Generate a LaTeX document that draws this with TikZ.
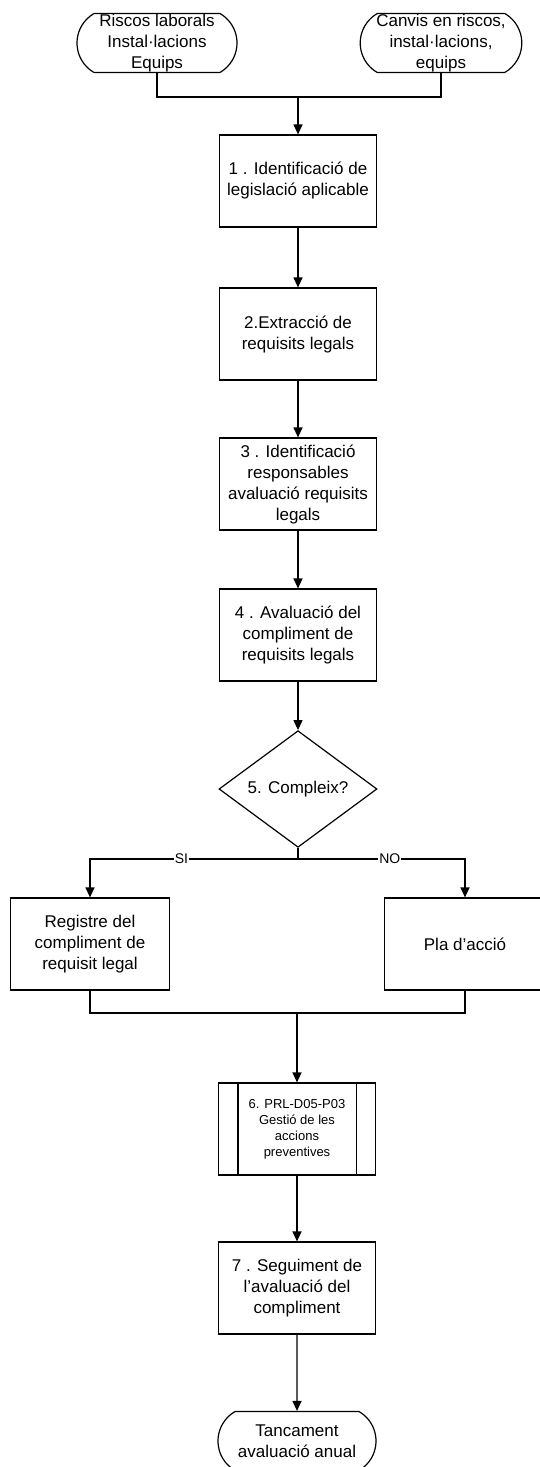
\documentclass[tikz,border=0pt]{standalone}
\usepackage{fontspec}
\setmainfont{Liberation Sans}
\usetikzlibrary{arrows.meta,shapes.geometric,shapes.misc}

\tikzset{
  link/.style={draw=black,line width=1.2pt},
  flow/.style={link,-{Triangle[width=9pt,length=10pt]}},
  procbox/.style={draw=black,line width=1.2pt,rectangle,minimum width=157pt,
    minimum height=92pt,inner sep=0pt,align=center,
    font=\fontsize{17}{21}\selectfont},
  subbox/.style={procbox,font=\fontsize{13}{16}\selectfont},
  termbox/.style={draw=black,line width=1.2pt,rounded rectangle,
    rounded rectangle arc length=120,minimum width=158pt,minimum height=59pt,
    inner sep=0pt,align=center,font=\fontsize{17}{21}\selectfont},
  decbox/.style={draw=black,line width=1.2pt,diamond,minimum width=158pt,
    minimum height=94pt,inner sep=0pt,font=\fontsize{17}{21}\selectfont},
  answer/.style={fill=white,inner sep=1pt,font=\fontsize{14}{16}\selectfont}
}

\begin{document}
\begin{tikzpicture}[x=1pt,y=-1pt]
  \useasboundingbox (0,0) rectangle (540,1467);
  % entrades
  \node[termbox,minimum width=160pt] (ent1) at (157,43) {Riscos laborals\\Instal·lacions\\Equips};
  \node[termbox,minimum width=152pt] (ent2) at (441,43) {Canvis en riscos,\\instal·lacions,\\equips};
  \coordinate (join1) at (298,97);
  % passos
  \node[procbox] (p1) at (298,181) {1 . Identificació de\\legislació aplicable};
  \node[procbox] (p2) at (298,334) {2.Extracció de\\requisits legals};
  \node[procbox] (p3) at (298,484) {3 . Identificació\\responsables\\avaluació requisits\\legals};
  \node[procbox] (p4) at (298,635) {4 . Avaluació del\\compliment de\\requisits legals};
  \node[decbox] (dec) at (298,789) {5. Compleix?};
  \coordinate (split) at (298,859);
  \node[procbox,minimum width=159pt] (reg) at (90,944) {Registre del\\compliment de\\requisit legal};
  \node[procbox,minimum width=161pt] (pla) at (465,944) {Pla d'acció};
  \coordinate (join2) at (297,1013);
  \node[subbox] (p6) at (297,1129) {6. PRL-D05-P03\\Gestió de les\\accions\\preventives};
  \node[procbox] (p7) at (297,1288) {7 . Seguiment de\\l'avaluació del\\compliment};
  \node[termbox] (fin) at (297,1441) {Tancament\\avaluació anual};

  % connexions
  \draw[link] (ent1.south) |- (join1) -| (ent2.south);
  \draw[flow] (join1) -- (p1);
  \draw[flow] (p1) -- (p2);
  \draw[flow] (p2) -- (p3);
  \draw[flow] (p3) -- (p4);
  \draw[flow] (p4) -- (dec);
  \draw[link] (dec) -- (split);
  \draw[flow] (split) -| node[answer,pos=0.28] (si) {SI} (reg);
  \draw[flow] (split) -| node[answer,pos=0.275] (no) {NO} (pla);
  \draw[link] (reg.south) |- (join2) -| (pla.south);
  \draw[flow] (join2) -- (p6);
  \draw[link] ([xshift=20pt]p6.north west) -- ([xshift=20pt]p6.south west);
  \draw[link] ([xshift=-20pt]p6.north east) -- ([xshift=-20pt]p6.south east);
  \draw[flow] (p6) -- (p7);
  \draw[flow] (p7) -- (fin);
\end{tikzpicture}
\end{document}
